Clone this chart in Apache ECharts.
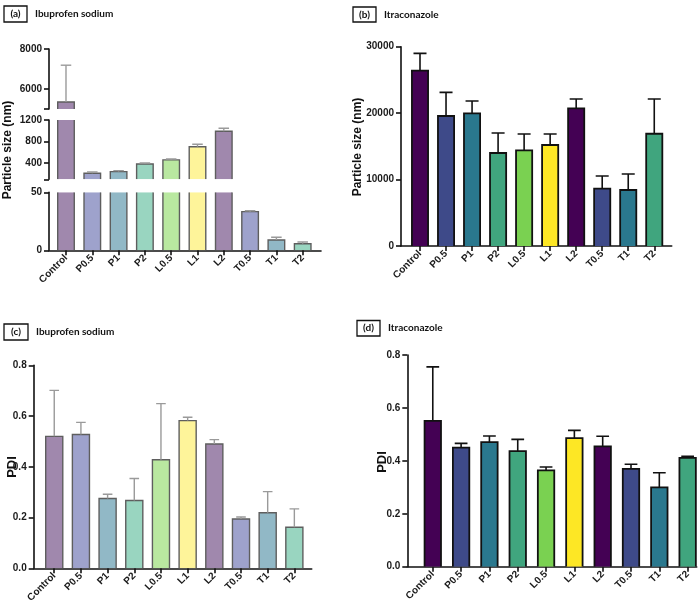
<!DOCTYPE html>
<html><head><meta charset="utf-8">
<script src="https://cdn.jsdelivr.net/npm/echarts@6/dist/echarts.min.js"></script>
<style>html,body{margin:0;padding:0;background:#fff}#c{width:700px;height:609px}</style>
</head><body><div id="c"></div>
<script>
// ---------- data ----------
const categories = ['Control','P0.5','P1','P2','L0.5','L1','L2','T0.5','T1','T2'];
// (a) Ibuprofen sodium particle size (nm) mean and SD
const ibuSize   = [5350, 211, 243, 385, 460, 705, 990, 33.3, 8.9, 5.7];
const ibuSizeSD = [1840, 24, 17, 18, 16, 45, 56, 0.8, 2.3, 1.5];
// (b) Itraconazole particle size (nm)
const itrSize   = [26390, 19570, 19970, 14000, 14400, 15200, 20730, 8630, 8430, 16900];
const itrSizeSD = [2610, 3560, 1860, 3010, 2460, 1660, 1400, 1910, 2410, 5230];
// (c) Ibuprofen sodium PDI
const ibuPDI   = [0.520, 0.527, 0.275, 0.267, 0.428, 0.582, 0.490, 0.194, 0.219, 0.162];
const ibuPDISD = [0.181, 0.048, 0.017, 0.087, 0.221, 0.013, 0.017, 0.008, 0.083, 0.072];
// (d) Itraconazole PDI
const itrPDI   = [0.551, 0.450, 0.471, 0.437, 0.364, 0.486, 0.455, 0.370, 0.300, 0.411];
const itrPDISD = [0.204, 0.016, 0.023, 0.044, 0.013, 0.029, 0.038, 0.017, 0.055, 0.006];
// axis ticks
const brokenTop = {min: 5000, max: 8000, ticks: [5000, 6000, 8000], labels: [6000, 8000]};
const brokenMid = {min: 100, max: 1200, ticks: [100, 400, 800, 1200], labels: [400, 800, 1200]};
const brokenBot = {min: 0, max: 50, ticks: [0, 50], labels: [0, 50]};
const pdiTicks = [0, 0.2, 0.4, 0.6, 0.8];
const itrSizeTicks = [0, 10000, 20000, 30000];

// ---------- styles ----------
const pastel = ['#a088ad','#9ea2cc','#91b8c6','#99d5c0','#b9e8a0','#fef49a','#a088ad','#9ea2cc','#91b8c6','#99d5c0'];
const viridis = ['#440154','#3e4a89','#2a788e','#40a57e','#7ad151','#fde725','#440154','#3e4a89','#2a788e','#40a57e'];
const FONT = '"Liberation Sans", Arial, sans-serif';
const lbl = {fontFamily: FONT, fontWeight: 'bold', fontSize: 10, color: '#1a1a1a'};
const idx = categories.map((c, i) => i);

function rows(vals, sds) { return vals.map((v, i) => [i, v, sds[i]]); }

function barRender(colors, ratio, stroke, lw, axisMin) {
  return function (params, api) {
    const i = api.value(0), v = api.value(1);
    const cs = params.coordSys;
    const w = api.size([1, 0])[0] * ratio;
    const pb = api.coord([i, axisMin]);
    let yt = api.coord([i, v])[1];
    let yb = pb[1];
    const gTop = cs.y, gBot = cs.y + cs.height;
    if (yt >= gBot - 0.5) return null;
    const clipped = yt < gTop;
    yt = Math.max(yt, gTop);
    yb = Math.min(yb, gBot);
    const x0 = pb[0] - w / 2, x1 = pb[0] + w / 2;
    const ls = {stroke: stroke, lineWidth: lw, fill: null};
    const ch = [{type: 'rect', shape: {x: x0, y: yt, width: w, height: yb - yt}, style: {fill: colors[i]}}];
    if (clipped) {
      ch.push({type: 'line', shape: {x1: x0, y1: yb, x2: x0, y2: yt}, style: ls});
      ch.push({type: 'line', shape: {x1: x1, y1: yb, x2: x1, y2: yt}, style: ls});
    } else {
      ch.push({type: 'polyline', shape: {points: [[x0, yb], [x0, yt], [x1, yt], [x1, yb]]}, style: ls});
    }
    return {type: 'group', children: ch};
  };
}
function errRender(color, capRatio, lw, lo, hi) {
  return function (params, api) {
    const i = api.value(0), v = api.value(1), sd = api.value(2);
    if (v < lo || v > hi) return null;
    const p0 = api.coord([i, v]), p1 = api.coord([i, v + sd]);
    const cw = api.size([1, 0])[0] * capRatio;
    const ls = {stroke: color, lineWidth: lw};
    return {type: 'group', children: [
      {type: 'line', shape: {x1: p0[0], y1: p0[1], x2: p1[0], y2: p1[1]}, style: ls},
      {type: 'line', shape: {x1: p1[0] - cw / 2, y1: p1[1], x2: p1[0] + cw / 2, y2: p1[1]}, style: ls}
    ]};
  };
}

function xAx(gi, min, max, show) {
  return {
    gridIndex: gi, type: 'value', min: min, max: max, show: show,
    splitLine: {show: false},
    axisLine: {show: true, onZero: false, lineStyle: {color: '#111', width: 1.6}},
    axisTick: {show: true, customValues: idx, length: 5, lineStyle: {color: '#111', width: 1.6}},
    axisLabel: Object.assign({}, lbl, {customValues: idx, rotate: 45, margin: 6,
      formatter: v => categories[Math.round(v)]})
  };
}
function yAx(gi, min, max, ticks, labels, fmt) {
  return {
    gridIndex: gi, type: 'value', min: min, max: max,
    splitLine: {show: false},
    axisLine: {show: true, onZero: false, lineStyle: {color: '#111', width: 1.6}},
    axisTick: {show: true, customValues: ticks, length: 5, lineStyle: {color: '#111', width: 1.6}},
    axisLabel: Object.assign({}, lbl, {customValues: labels, margin: 7, formatter: fmt || (v => String(v))})
  };
}

const grids = [
  {left: 49, width: 272, top: 49, height: 60},
  {left: 49, width: 272, top: 120, height: 59.3},
  {left: 49, width: 272, top: 192.3, height: 58},
  {left: 401, width: 270.7, top: 46.7, height: 199.3},
  {left: 33.7, width: 278, top: 365.3, height: 203},
  {left: 407.3, width: 289.4, top: 355, height: 211.7}
];
const xAxes = [
  xAx(0, -0.646, 9.696, false),
  xAx(1, -0.646, 9.696, false),
  xAx(2, -0.646, 9.696, true),
  xAx(3, -0.73, 9.67, true),
  xAx(4, -0.77, 9.65, true),
  xAx(5, -0.9, 9.32, true)
];
const f1 = v => v.toFixed(1);
const yAxes = [
  yAx(0, brokenTop.min, brokenTop.max, brokenTop.ticks, brokenTop.labels),
  yAx(1, brokenMid.min, brokenMid.max, brokenMid.ticks, brokenMid.labels),
  yAx(2, brokenBot.min, brokenBot.max, brokenBot.ticks, brokenBot.labels),
  yAx(3, 0, 30000, itrSizeTicks, itrSizeTicks),
  yAx(4, 0, 0.8, pdiTicks, pdiTicks, f1),
  yAx(5, 0, 0.8, pdiTicks, pdiTicks, f1)
];

const series = [];
function addPanel(gi, vals, sds, colors, ratio, stroke, lw, errColor, capRatio, errLw, seg) {
  series.push({type: 'custom', xAxisIndex: gi, yAxisIndex: gi, clip: true, z: 2,
    renderItem: barRender(colors, ratio, stroke, lw, seg.min), data: rows(vals, sds)});
  series.push({type: 'custom', xAxisIndex: gi, yAxisIndex: gi, clip: true, z: 3,
    renderItem: errRender(errColor, capRatio, errLw, seg.min, seg.max), data: rows(vals, sds)});
}
addPanel(0, ibuSize, ibuSizeSD, pastel, 0.63, '#5e5e5e', 1.4, '#9a9a9a', 0.4, 1.4, brokenTop);
addPanel(1, ibuSize, ibuSizeSD, pastel, 0.63, '#5e5e5e', 1.4, '#9a9a9a', 0.4, 1.4, brokenMid);
addPanel(2, ibuSize, ibuSizeSD, pastel, 0.63, '#5e5e5e', 1.4, '#9a9a9a', 0.4, 1.4, brokenBot);
addPanel(3, itrSize, itrSizeSD, viridis, 0.62, '#111', 1.8, '#111', 0.5, 1.6, {min: 0, max: 30000});
addPanel(4, ibuPDI, ibuPDISD, pastel, 0.64, '#5e5e5e', 1.4, '#9a9a9a', 0.36, 1.4, {min: 0, max: 0.8});
addPanel(5, itrPDI, itrPDISD, viridis, 0.58, '#111', 1.8, '#111', 0.45, 1.6, {min: 0, max: 0.8});

const TF = 'bold 10px Lato, "Liberation Sans", sans-serif';
function panelTitle(bx, by, bw, bh, tag, name) {
  return [
    {type: 'rect', shape: {x: bx, y: by, width: bw, height: bh}, style: {fill: '#fff', stroke: '#111', lineWidth: 1.3}},
    {type: 'text', x: bx + bw / 2, y: by + bh / 2, style: {text: tag, font: TF, fill: '#111', align: 'center', verticalAlign: 'middle'}},
    {type: 'text', x: bx + bw + 8, y: by + bh / 2, style: {text: name, font: TF, fill: '#111', align: 'left', verticalAlign: 'middle'}}
  ];
}
function yTitle(x, y, text, size) {
  return {type: 'text', x: x, y: y, rotation: Math.PI / 2,
    style: {text: text, font: 'bold ' + size + 'px ' + FONT, fill: '#111', align: 'center', verticalAlign: 'middle'}};
}
const graphic = [].concat(
  panelTitle(4, 6, 23, 16, '(a)', 'Ibuprofen sodium'),
  panelTitle(353, 7, 23, 15, '(b)', 'Itraconazole'),
  panelTitle(4, 324, 24, 16, '(c)', 'Ibuprofen sodium'),
  panelTitle(357, 320.5, 23, 15.5, '(d)', 'Itraconazole'),
  [yTitle(8, 150, 'Particle size (nm)', 12),
   yTitle(358, 147, 'Particle size (nm)', 12),
   yTitle(12, 467, 'PDI', 13),
   yTitle(382.5, 462, 'PDI', 13)]
);

const chart = echarts.init(document.getElementById('c'), null, {renderer: 'canvas'});
chart.setOption({
  animation: false,
  backgroundColor: '#fff',
  grid: grids,
  xAxis: xAxes,
  yAxis: yAxes,
  series: series,
  graphic: graphic
});
</script>
</body></html>
